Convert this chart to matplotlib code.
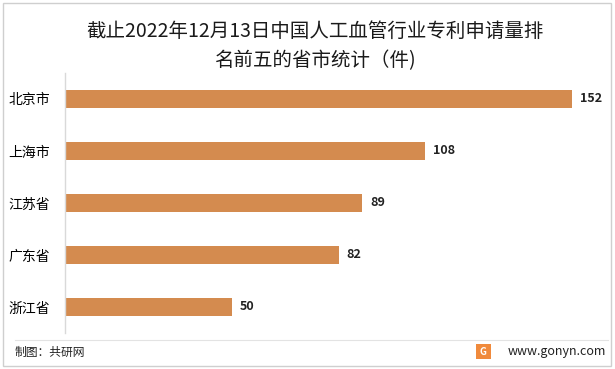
import matplotlib.pyplot as plt
from matplotlib.patches import Rectangle

plt.rcParams['font.family'] = ['Noto Sans CJK SC', 'DejaVu Sans']

provinces = ["北京市", "上海市", "江苏省", "广东省", "浙江省"]
counts = [152, 108, 89, 82, 50]
title = "截止2022年12月13日中国人工血管行业专利申请量排\n名前五的省市统计（件)"
bar_color = "#D48B4F"

fig = plt.figure(figsize=(6.15, 3.69), dpi=100)
ax = fig.add_axes([0.1057, 0.0976, 0.868, 0.7046])

pos = list(range(len(provinces)))
ax.barh(pos, counts, height=0.34, color=bar_color)
ax.set_ylim(len(provinces) - 0.5, -0.5)
ax.set_xlim(0, 160)
ax.set_yticks(pos)
ax.set_yticklabels(provinces, fontsize=10)
ax.set_xticks([])
ax.tick_params(axis="y", length=0, pad=11)
for s in ["top", "right", "bottom"]:
    ax.spines[s].set_visible(False)
ax.spines["left"].set_color("#D9D9D9")
ax.spines["left"].set_linewidth(1)

for y, v in zip(pos, counts):
    ax.text(v + 2.4, y, str(v), va="center", ha="left", fontsize=9,
            fontweight="bold", color="#222222")

fig.text(0.512, 0.875, title, ha="center", va="center", fontsize=14,
         linespacing=1.55, color="#1a1a1a")

# frame, separator and footer
fig.add_artist(Rectangle((0.005, 0.008), 0.988, 0.984, transform=fig.transFigure,
                         fill=False, edgecolor="#CFCFCF", linewidth=1))
fig.add_artist(plt.Line2D([0.024, 0.988], [0.078, 0.078], transform=fig.transFigure,
                          color="#E3E3E3", linewidth=0.8))
fig.text(0.024, 0.045, "制图：共研网", ha="left", va="center", fontsize=8.5,
         color="#222222")
fig.add_artist(Rectangle((0.774, 0.028), 0.024, 0.04, transform=fig.transFigure,
                         facecolor="#F08A3C", edgecolor="none"))
fig.text(0.786, 0.047, "G", ha="center", va="center", fontsize=7,
         color="white", fontweight="bold")
fig.text(0.986, 0.048, "www.gonyn.com", ha="right", va="center", fontsize=9,
         color="#222222")

fig.savefig("out.png", dpi=100)
